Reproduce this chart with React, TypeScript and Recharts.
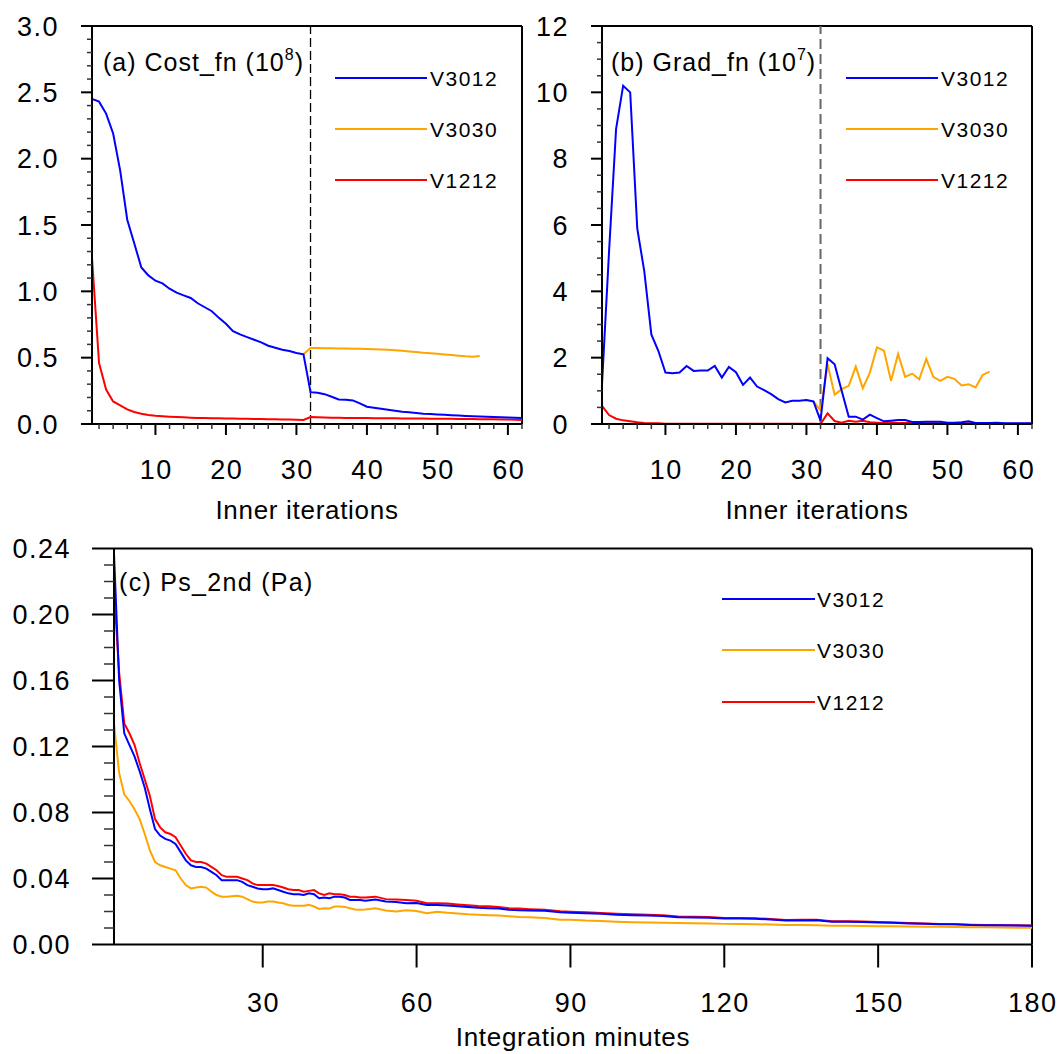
import React from 'react';
import { LineChart, Line, XAxis, YAxis, ReferenceLine } from 'recharts';

const FONT = '"Liberation Sans", Arial, Helvetica, sans-serif';
const BLUE = '#0000ff';
const ORANGE = '#ffa500';
const RED = '#ff0000';

// ---------- Panels (a) and (b): inner iterations ----------
const iterations = [1, 2, 3, 4, 5, 6, 7, 8, 9, 10, 11, 12, 13, 14, 15, 16, 17, 18, 19, 20, 21, 22, 23, 24, 25, 26, 27, 28, 29, 30, 31, 32, 33, 34, 35, 36, 37, 38, 39, 40, 41, 42, 43, 44, 45, 46, 47, 48, 49, 50, 51, 52, 53, 54, 55, 56, 57, 58, 59, 60, 61, 62];

const costV3012 = [2.45, 2.43, 2.34, 2.19, 1.91, 1.54, 1.36, 1.18, 1.12, 1.08, 1.06, 1.02, 0.99, 0.97, 0.95, 0.91, 0.88, 0.85, 0.8, 0.755, 0.7, 0.675, 0.655, 0.635, 0.615, 0.59, 0.575, 0.56, 0.55, 0.535, 0.525, 0.24, 0.235, 0.225, 0.205, 0.185, 0.183, 0.178, 0.155, 0.13, 0.122, 0.115, 0.108, 0.1, 0.093, 0.088, 0.083, 0.078, 0.075, 0.072, 0.069, 0.066, 0.064, 0.061, 0.059, 0.057, 0.055, 0.053, 0.051, 0.049, 0.047, 0.045];
const costV3030 = [null, null, null, null, null, null, null, null, null, null, null, null, null, null, null, null, null, null, null, null, null, null, null, null, null, null, null, null, null, null, 0.525, 0.572, 0.572, 0.571, 0.571, 0.57, 0.569, 0.568, 0.567, 0.566, 0.564, 0.562, 0.56, 0.556, 0.552, 0.547, 0.542, 0.537, 0.534, 0.529, 0.524, 0.52, 0.515, 0.51, 0.507, 0.512, null, null, null, null, null, null];
const costV1212 = [1.25, 0.46, 0.26, 0.17, 0.14, 0.11, 0.09, 0.078, 0.068, 0.062, 0.058, 0.055, 0.052, 0.05, 0.048, 0.046, 0.045, 0.044, 0.043, 0.042, 0.041, 0.04, 0.039, 0.038, 0.037, 0.036, 0.035, 0.034, 0.033, 0.032, 0.031, 0.052, 0.05, 0.049, 0.048, 0.047, 0.046, 0.046, 0.045, 0.045, 0.044, 0.044, 0.043, 0.043, 0.042, 0.042, 0.041, 0.041, 0.04, 0.04, 0.039, 0.039, 0.038, 0.038, 0.037, 0.036, 0.036, 0.035, 0.034, 0.033, 0.032, 0.031];

const gradV3012 = [1.2, 5.2, 8.9, 10.2, 10.0, 5.9, 4.6, 2.7, 2.2, 1.55, 1.53, 1.55, 1.75, 1.6, 1.61, 1.61, 1.75, 1.4, 1.72, 1.56, 1.18, 1.4, 1.13, 1.02, 0.9, 0.75, 0.65, 0.7, 0.7, 0.72, 0.68, 0.1, 1.98, 1.8, 1.0, 0.22, 0.22, 0.13, 0.28, 0.18, 0.08, 0.1, 0.12, 0.12, 0.06, 0.06, 0.07, 0.07, 0.07, 0.04, 0.04, 0.05, 0.08, 0.03, 0.03, 0.03, 0.04, 0.02, 0.02, 0.02, 0.02, 0.02];
const gradV3030 = [null, null, null, null, null, null, null, null, null, null, null, null, null, null, null, null, null, null, null, null, null, null, null, null, null, null, null, null, null, null, 0.68, 0.41, 1.8, 0.88, 1.05, 1.15, 1.73, 1.08, 1.55, 2.31, 2.21, 1.3, 2.11, 1.42, 1.52, 1.35, 1.96, 1.42, 1.3, 1.42, 1.36, 1.16, 1.2, 1.1, 1.48, 1.58, null, null, null, null, null, null];
const gradV1212 = [0.55, 0.27, 0.16, 0.11, 0.08, 0.05, 0.03, 0.02, 0.02, 0.01, 0.01, 0.01, 0.01, 0.01, 0.01, 0.01, 0.01, 0.01, 0.01, 0.01, 0.01, 0.01, 0.01, 0.01, 0.01, 0.01, 0.01, 0.01, 0.01, 0.01, 0.01, 0.0, 0.32, 0.09, 0.04, 0.1, 0.07, 0.1, 0.05, 0.04, 0.03, 0.04, 0.03, 0.03, 0.03, 0.02, 0.02, 0.02, 0.02, 0.02, 0.02, 0.02, 0.02, 0.02, 0.01, 0.01, 0.01, 0.01, 0.01, 0.01, 0.01, 0.01];

const iterTicks = [2, 4, 6, 8, 10, 12, 14, 16, 18, 20, 22, 24, 26, 28, 30, 32, 34, 36, 38, 40, 42, 44, 46, 48, 50, 52, 54, 56, 58, 60, 62];
const iterMajor = [10, 20, 30, 40, 50, 60];
const iterDomain = [1, 62];
const costTicks = [0, 0.1, 0.2, 0.3, 0.4, 0.5, 0.6, 0.7, 0.8, 0.9, 1.0, 1.1, 1.2, 1.3, 1.4, 1.5, 1.6, 1.7, 1.8, 1.9, 2.0, 2.1, 2.2, 2.3, 2.4, 2.5, 2.6, 2.7, 2.8, 2.9, 3.0];
const costMajor = [0, 0.5, 1.0, 1.5, 2.0, 2.5, 3.0];
const costDomain = [0, 3];
const gradTicks = [0, 0.5, 1, 1.5, 2, 2.5, 3, 3.5, 4, 4.5, 5, 5.5, 6, 6.5, 7, 7.5, 8, 8.5, 9, 9.5, 10, 10.5, 11, 11.5, 12];
const gradMajor = [0, 2, 4, 6, 8, 10, 12];
const gradDomain = [0, 12];
const outerLoopBoundary = 32;

// ---------- Panel (c): integration minutes ----------
const minutes = [1, 2, 3, 4, 5, 6, 7, 8, 9, 10, 11, 12, 13, 14, 15, 16, 17, 18, 19, 20, 21, 22, 23, 24, 25, 26, 27, 28, 29, 30, 31, 32, 33, 34, 35, 36, 37, 38, 39, 40, 41, 42, 43, 44, 45, 46, 47, 48, 49, 50, 52, 54, 56, 58, 60, 62, 64, 66, 68, 70, 72, 74, 76, 78, 80, 82, 85, 88, 90, 93, 96, 99, 102, 105, 108, 111, 114, 117, 120, 123, 126, 129, 132, 135, 138, 141, 144, 147, 150, 153, 156, 159, 162, 165, 168, 171, 174, 177, 180];
const psV3012 = [0.237, 0.16, 0.128, 0.121, 0.114, 0.105, 0.095, 0.082, 0.07, 0.066, 0.064, 0.063, 0.061, 0.056, 0.051, 0.048, 0.047, 0.047, 0.046, 0.044, 0.042, 0.039, 0.039, 0.039, 0.039, 0.038, 0.036, 0.035, 0.034, 0.0335, 0.0335, 0.034, 0.033, 0.032, 0.031, 0.0305, 0.0305, 0.03, 0.031, 0.0305, 0.028, 0.0285, 0.028, 0.029, 0.029, 0.0285, 0.027, 0.027, 0.027, 0.0265, 0.0272, 0.026, 0.0258, 0.025, 0.0252, 0.024, 0.024, 0.0236, 0.0232, 0.0228, 0.0222, 0.022, 0.0218, 0.021, 0.0208, 0.0206, 0.0204, 0.0196, 0.0193, 0.019, 0.0186, 0.018, 0.0178, 0.0176, 0.0173, 0.0165, 0.0164, 0.0162, 0.0157, 0.0158, 0.0156, 0.0152, 0.0145, 0.0146, 0.0147, 0.0138, 0.0138, 0.0137, 0.0134, 0.0132, 0.0128, 0.0126, 0.0123, 0.0122, 0.0118, 0.0117, 0.0116, 0.0115, 0.0113];
const psV1212 = [0.215, 0.165, 0.134, 0.128, 0.121, 0.11, 0.1, 0.09, 0.076, 0.071, 0.068, 0.067, 0.065, 0.06, 0.055, 0.051, 0.05, 0.05, 0.049, 0.047, 0.045, 0.042, 0.041, 0.041, 0.041, 0.04, 0.039, 0.037, 0.036, 0.036, 0.036, 0.036, 0.0355, 0.0345, 0.0335, 0.033, 0.033, 0.032, 0.0325, 0.033, 0.031, 0.03, 0.031, 0.0305, 0.0305, 0.03, 0.029, 0.029, 0.0285, 0.0285, 0.029, 0.0275, 0.0272, 0.027, 0.0265, 0.025, 0.025, 0.0248, 0.0243, 0.0238, 0.0234, 0.0232, 0.0228, 0.022, 0.0218, 0.0214, 0.021, 0.0202, 0.0199, 0.0196, 0.0191, 0.0186, 0.0183, 0.018, 0.0177, 0.0169, 0.0168, 0.0166, 0.016, 0.0161, 0.0159, 0.0155, 0.0148, 0.015, 0.015, 0.0141, 0.0141, 0.0139, 0.0136, 0.0133, 0.013, 0.0127, 0.0125, 0.0123, 0.012, 0.0118, 0.0117, 0.0116, 0.0115];
const psV3030 = [0.134, 0.104, 0.091, 0.087, 0.082, 0.076, 0.067, 0.057, 0.05, 0.048, 0.047, 0.046, 0.045, 0.04, 0.036, 0.034, 0.0345, 0.035, 0.0345, 0.032, 0.03, 0.029, 0.029, 0.0293, 0.0295, 0.029, 0.0275, 0.026, 0.0255, 0.0255, 0.026, 0.026, 0.0255, 0.025, 0.024, 0.0235, 0.0235, 0.0235, 0.024, 0.023, 0.0215, 0.022, 0.0218, 0.023, 0.023, 0.0228, 0.022, 0.0212, 0.021, 0.0212, 0.022, 0.0206, 0.02, 0.0208, 0.0203, 0.019, 0.0198, 0.0192, 0.0188, 0.0183, 0.018, 0.0178, 0.0176, 0.0171, 0.0166, 0.0165, 0.016, 0.015, 0.015, 0.0145, 0.0143, 0.0138, 0.0135, 0.0134, 0.0132, 0.013, 0.0129, 0.0127, 0.0125, 0.0124, 0.0123, 0.0121, 0.0118, 0.0118, 0.0117, 0.0113, 0.0113, 0.0112, 0.0111, 0.011, 0.0109, 0.0108, 0.0107, 0.0106, 0.0105, 0.0104, 0.0103, 0.0102, 0.0101];

const minuteTicks = [30, 60, 90, 120, 150, 180];
const minuteDomain = [1, 180];
const psTicks = [0, 0.01, 0.02, 0.03, 0.04, 0.05, 0.06, 0.07, 0.08, 0.09, 0.1, 0.11, 0.12, 0.13, 0.14, 0.15, 0.16, 0.17, 0.18, 0.19, 0.2, 0.21, 0.22, 0.23, 0.24];
const psMajor = [0, 0.04, 0.08, 0.12, 0.16, 0.2, 0.24];
const psDomain = [0, 0.24];

const seriesNames = ['V3012', 'V3030', 'V1212'];
const seriesColors = [BLUE, ORANGE, RED];

const rowsA = iterations.map((it, i) => ({ it, v3012: costV3012[i], v3030: costV3030[i], v1212: costV1212[i] }));
const rowsB = iterations.map((it, i) => ({ it, v3012: gradV3012[i], v3030: gradV3030[i], v1212: gradV1212[i] }));
const rowsC = minutes.map((m, i) => ({ m, v3012: psV3012[i], v3030: psV3030[i], v1212: psV1212[i] }));

const isIn = (v: number, arr: number[]) => arr.some((a) => Math.abs(a - v) < 1e-9);

type TickCfg = {
  side: 'left' | 'bottom';
  majors: number[];
  majorLen: number;
  minorLen: number;
  gap: number;
  fmt: (v: number) => string;
};

const TICK_FONT = 27;

function makeTick(cfg: TickCfg) {
  return function Tick(props: any) {
    const { x, y, payload } = props;
    const v = Number(payload.value);
    const major = isIn(v, cfg.majors);
    const len = major ? cfg.majorLen : cfg.minorLen;
    const stroke = major ? '#000' : '#333';
    const sw = major ? 2 : 1.5;
    if (cfg.side === 'left') {
      return (
        <g>
          <line x1={x - len} x2={x} y1={y} y2={y} stroke={stroke} strokeWidth={sw} />
          {major && (
            <text x={x - cfg.gap} y={y + 9.6} textAnchor="end" fontFamily={FONT} fontSize={TICK_FONT} letterSpacing={1.5} fill="#000">
              {cfg.fmt(v)}
            </text>
          )}
        </g>
      );
    }
    return (
      <g>
        <line x1={x} x2={x} y1={y} y2={y + len} stroke={stroke} strokeWidth={sw} />
        {major && (
          <text x={x + 0.75} y={y + cfg.gap} textAnchor="middle" fontFamily={FONT} fontSize={TICK_FONT} letterSpacing={1.5} fill="#000">
            {cfg.fmt(v)}
          </text>
        )}
      </g>
    );
  };
}

const axisStroke = { stroke: '#000', strokeWidth: 2 };

function renderSeries() {
  return [
    <Line key="v3030" type="linear" dataKey="v3030" stroke={ORANGE} strokeWidth={2} dot={false} connectNulls={false} isAnimationActive={false} />,
    <Line key="v1212" type="linear" dataKey="v1212" stroke={RED} strokeWidth={2} dot={false} connectNulls={false} isAnimationActive={false} />,
    <Line key="v3012" type="linear" dataKey="v3012" stroke={BLUE} strokeWidth={2} dot={false} connectNulls={false} isAnimationActive={false} />,
  ];
}

function frame(xMax: number, yMax: number) {
  return [
    <ReferenceLine key="ftop" y={yMax} stroke="#000" strokeWidth={2} />,
    <ReferenceLine key="fright" x={xMax} stroke="#000" strokeWidth={2} />,
  ];
}

function Legend({ x1, x2, tx, ys }: { x1: number; x2: number; tx: number; ys: number[] }) {
  return (
    <g>
      {seriesNames.map((n, i) => (
        <g key={n}>
          <line x1={x1} x2={x2} y1={ys[i]} y2={ys[i]} stroke={seriesColors[i]} strokeWidth={2} />
          <text x={tx} y={ys[i] + 7.5} fontFamily={FONT} fontSize={21} letterSpacing={1.5} fill="#000">
            {n}
          </text>
        </g>
      ))}
    </g>
  );
}

export default function App() {
  return (
    <div style={{ position: 'absolute', left: 0, top: 0, width: 1059, height: 1054, background: '#fff', overflow: 'hidden' }}>
      {/* Panel (a) */}
      <div style={{ position: 'absolute', left: 0, top: 0 }}>
        <LineChart width={540} height={540} data={rowsA} margin={{ top: 26, right: 18, left: 0, bottom: 0 }}>
          <XAxis
            dataKey="it"
            type="number"
            domain={iterDomain}
            allowDataOverflow
            ticks={iterTicks}
            interval={0}
            height={116}
            tickSize={0}
            tickMargin={0}
            tickLine={false}
            axisLine={axisStroke}
            tick={makeTick({ side: 'bottom', majors: iterMajor, majorLen: 11, minorLen: 5, gap: 55, fmt: (v) => String(v) })}
          />
          <YAxis
            type="number"
            domain={costDomain}
            allowDataOverflow
            ticks={costTicks}
            interval={0}
            width={92}
            tickSize={0}
            tickMargin={0}
            tickLine={false}
            axisLine={axisStroke}
            tick={makeTick({ side: 'left', majors: costMajor, majorLen: 11, minorLen: 5, gap: 33, fmt: (v) => v.toFixed(1) })}
          />
          {frame(iterDomain[1], costDomain[1])}
          <ReferenceLine x={outerLoopBoundary} stroke="#000" strokeWidth={1.3} strokeDasharray="9 4" />
          {renderSeries()}
        </LineChart>
      </div>

      {/* Panel (b) */}
      <div style={{ position: 'absolute', left: 520, top: 0 }}>
        <LineChart width={539} height={540} data={rowsB} margin={{ top: 26, right: 27, left: 0, bottom: 0 }}>
          <XAxis
            dataKey="it"
            type="number"
            domain={iterDomain}
            allowDataOverflow
            ticks={iterTicks}
            interval={0}
            height={116}
            tickSize={0}
            tickMargin={0}
            tickLine={false}
            axisLine={axisStroke}
            tick={makeTick({ side: 'bottom', majors: iterMajor, majorLen: 11, minorLen: 5, gap: 55, fmt: (v) => String(v) })}
          />
          <YAxis
            type="number"
            domain={gradDomain}
            allowDataOverflow
            ticks={gradTicks}
            interval={0}
            width={82}
            tickSize={0}
            tickMargin={0}
            tickLine={false}
            axisLine={axisStroke}
            tick={makeTick({ side: 'left', majors: gradMajor, majorLen: 11, minorLen: 5, gap: 33, fmt: (v) => String(v) })}
          />
          {frame(iterDomain[1], gradDomain[1])}
          <ReferenceLine x={outerLoopBoundary} stroke="#666" strokeWidth={2} strokeDasharray="10 5" />
          {renderSeries()}
        </LineChart>
      </div>

      {/* Panel (c) */}
      <div style={{ position: 'absolute', left: 0, top: 520 }}>
        <LineChart width={1059} height={534} data={rowsC} margin={{ top: 28.5, right: 27, left: 0, bottom: 0 }}>
          <XAxis
            dataKey="m"
            type="number"
            domain={minuteDomain}
            allowDataOverflow
            ticks={minuteTicks}
            interval={0}
            height={109.5}
            tickSize={0}
            tickMargin={0}
            tickLine={false}
            axisLine={axisStroke}
            tick={makeTick({ side: 'bottom', majors: minuteTicks, majorLen: 23, minorLen: 10, gap: 67, fmt: (v) => String(v) })}
          />
          <YAxis
            type="number"
            domain={psDomain}
            allowDataOverflow
            ticks={psTicks}
            interval={0}
            width={114}
            tickSize={0}
            tickMargin={0}
            tickLine={false}
            axisLine={axisStroke}
            tick={makeTick({ side: 'left', majors: psMajor, majorLen: 22, minorLen: 10, gap: 43, fmt: (v) => v.toFixed(2) })}
          />
          {frame(minuteDomain[1], psDomain[1])}
          {renderSeries()}
        </LineChart>
      </div>

      {/* Titles, legends and axis titles */}
      <svg width={1059} height={1054} style={{ position: 'absolute', left: 0, top: 0, pointerEvents: 'none' }}>
        <text x={103} y={71} fontFamily={FONT} fontSize={25} letterSpacing={1} fill="#000">
          (a) Cost_fn (10<tspan dy={-11} fontSize={16}>8</tspan><tspan dy={11}>)</tspan>
        </text>
        <text x={611} y={71} fontFamily={FONT} fontSize={25} letterSpacing={1} fill="#000">
          (b) Grad_fn (10<tspan dy={-11} fontSize={16}>7</tspan><tspan dy={11}>)</tspan>
        </text>
        <text x={119} y={591} fontFamily={FONT} fontSize={25} letterSpacing={1.3} fill="#000">
          (c) Ps_2nd (Pa)
        </text>
        <Legend x1={335} x2={427} tx={430} ys={[78, 129, 180]} />
        <Legend x1={846} x2={938} tx={941} ys={[78, 129, 180]} />
        <Legend x1={722} x2={815} tx={817} ys={[599, 650, 702]} />
        <text x={307} y={519} textAnchor="middle" fontFamily={FONT} fontSize={26} letterSpacing={0.7} fill="#000">
          Inner iterations
        </text>
        <text x={817} y={519} textAnchor="middle" fontFamily={FONT} fontSize={26} letterSpacing={0.7} fill="#000">
          Inner iterations
        </text>
        <text x={573} y={1046} textAnchor="middle" fontFamily={FONT} fontSize={26} letterSpacing={0.7} fill="#000">
          Integration minutes
        </text>
      </svg>
    </div>
  );
}
